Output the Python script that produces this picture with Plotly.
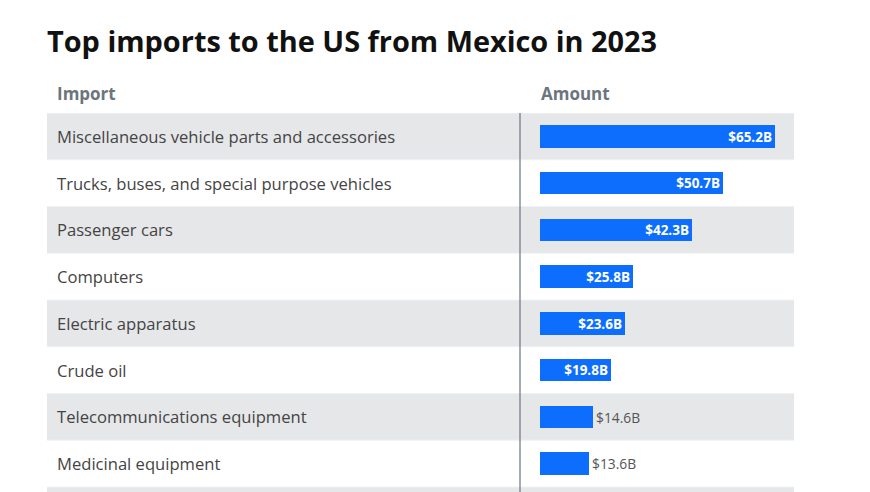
import plotly.graph_objects as go

imports = [
    "Miscellaneous vehicle parts and accessories",
    "Trucks, buses, and special purpose vehicles",
    "Passenger cars",
    "Computers",
    "Electric apparatus",
    "Crude oil",
    "Telecommunications equipment",
    "Medicinal equipment",
]
amounts = [65.2, 50.7, 42.3, 25.8, 23.6, 19.8, 14.6, 13.6]
amount_labels = ["$65.2B", "$50.7B", "$42.3B", "$25.8B", "$23.6B", "$19.8B", "$14.6B", "$13.6B"]
label_positions = ["inside"] * 6 + ["outside"] * 2

OFF = 8  # page body offset
W, H = 870, 492
L, R, T, B = 47 - OFF, 76 + OFF, 113 - OFF, 0
plot_w = W - L - R
bar_x0 = 540 - OFF
scale = 235 / 65.2
x_min = -(bar_x0 - L) / scale
x_max = (W - R - bar_x0) / scale
n_rows = len(imports)
row_h = 46.75
y_max = (H - T) / row_h - 0.5

FONT = "Open Sans, Noto Sans, sans-serif"
BAND = "#e6e7e9"

fig = go.Figure()
fig.add_trace(go.Bar(
    y=list(range(n_rows)), x=amounts, orientation="h", base=0,
    marker=dict(color="#0d6efd", line=dict(width=0)),
    width=0.48,
    text=amount_labels, textposition=label_positions,
    insidetextanchor="end", constraintext="none", cliponaxis=False,
    insidetextfont=dict(color="white", size=13.5, family=FONT, weight="bold"),
    outsidetextfont=dict(color="#555555", size=13.8, family=FONT),
    hoverinfo="skip",
))

shapes = []
for i in range(n_rows + 1):
    if i % 2 == 0:
        shapes.append(dict(type="rect", xref="paper", yref="y", x0=0, x1=1,
                           y0=i - 0.5, y1=i + 0.5, fillcolor=BAND, line=dict(width=0),
                           layer="below"))
    shapes.append(dict(type="line", xref="paper", yref="y", x0=0, x1=1,
                       y0=i - 0.5, y1=i - 0.5, line=dict(color="#eef2f7", width=1),
                       layer="below"))
shapes.append(dict(type="line", xref="x", yref="paper", x0=-20 / scale, x1=-20 / scale,
                   y0=0, y1=1, line=dict(color="#6c757d", width=1.2)))

annotations = []
for i, name in enumerate(imports):
    annotations.append(dict(text=name, xref="paper", yref="y", x=8 / plot_w, y=i,
                            xanchor="left", yanchor="middle", showarrow=False,
                            font=dict(family=FONT, size=16.6, color="#444444")))
annotations.append(dict(text="Import", xref="paper", yref="paper", x=8 / plot_w,
                        y=1 + 20 / (H - T - B), xanchor="left", yanchor="middle", showarrow=False,
                        font=dict(family=FONT, size=17, color="#6c757d", weight="bold")))
annotations.append(dict(text="Amount", xref="x", yref="paper", x=-1 / scale,
                        y=1 + 20 / (H - T - B), xanchor="left", yanchor="middle", showarrow=False,
                        font=dict(family=FONT, size=17, color="#6c757d", weight="bold")))

fig.update_layout(
    width=W, height=H,
    margin=dict(l=L, r=R, t=T, b=B, pad=0),
    paper_bgcolor="white", plot_bgcolor="rgba(0,0,0,0)",
    title=dict(text="Top imports to the US from Mexico in 2023", x=L / W, xanchor="left",
               y=1 - (42 - OFF) / H, yanchor="middle",
               font=dict(family=FONT, size=28.9, color="#111111", weight="bold")),
    xaxis=dict(range=[x_min, x_max], visible=False, fixedrange=True),
    yaxis=dict(range=[y_max, -0.5], visible=False, fixedrange=True),
    showlegend=False,
    shapes=shapes, annotations=annotations,
    bargap=0,
)

fig.write_html("out.html")
